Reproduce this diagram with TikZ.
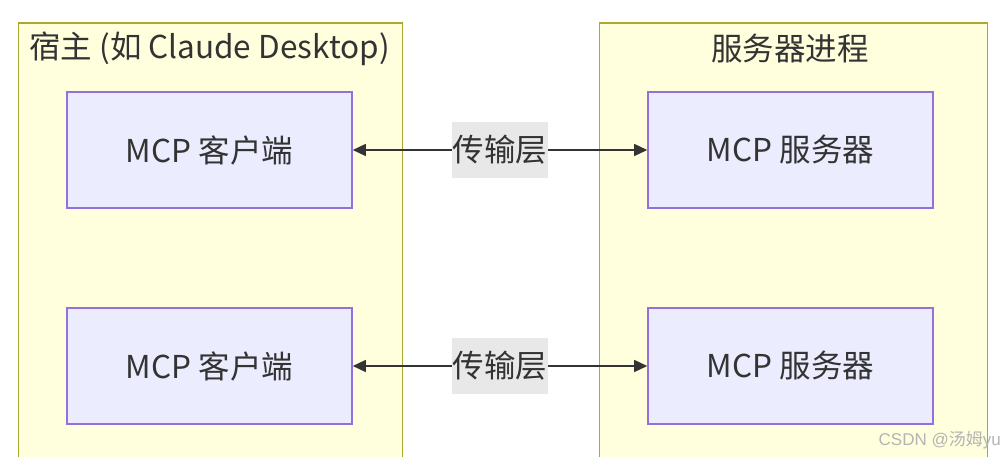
\documentclass[tikz,border=0pt]{standalone}
\usepackage{fontspec}
\setmainfont{Noto Sans CJK SC}
\newfontfamily\wmfont{Liberation Sans}
\newfontfamily\wmcjk{Noto Sans CJK SC}
\usetikzlibrary{arrows.meta}
\definecolor{clfill}{HTML}{FFFFDE}
\definecolor{cldraw}{HTML}{AAAA33}
\definecolor{ndfill}{HTML}{ECECFF}
\definecolor{nddraw}{HTML}{9370DB}
\definecolor{txt}{HTML}{333333}
\definecolor{lblbg}{HTML}{E8E8E8}
\definecolor{wm}{HTML}{B4B4B4}
\tikzset{
  cluster/.style={draw=cldraw, fill=clfill, line width=1.8pt, anchor=north west, inner sep=0pt},
  cltitle/.style={text=txt, font=\fontsize{31.5}{36}\selectfont, inner sep=0pt},
  mcpbox/.style={draw=nddraw, fill=ndfill, line width=1.6pt, minimum width=285pt, minimum height=116pt, text=txt, font=\fontsize{31.5}{36}\selectfont, inner sep=0pt},
  lbl/.style={fill=lblbg, text=txt, minimum width=96pt, minimum height=56pt, inner sep=0pt, font=\fontsize{31.5}{36}\selectfont},
  link/.style={draw=txt, line width=1.5pt, {Triangle[length=13pt,width=12pt]}-{Triangle[length=13pt,width=12pt]}},
}
\begin{document}
\begin{tikzpicture}[x=1pt,y=-1pt]
\useasboundingbox (0,0) rectangle (1003,457);
\clip (0,0) rectangle (1003,457);
\node[cluster, minimum width=384pt, minimum height=480pt] (host) at (17.5,22.5) {};
\node[cluster, minimum width=388pt, minimum height=480pt] (srv) at (598.5,22.5) {};
\node[cltitle] (hostt) at (209.5,49) {宿主 (如 Claude Desktop)};
\node[cltitle] (srvt) at (790,49) {服务器进程};
\node[mcpbox] (c1) at (209.5,150) {MCP 客户端};
\node[mcpbox] (c2) at (209.5,366) {MCP 客户端};
\node[mcpbox] (s1) at (790.5,150) {MCP 服务器};
\node[mcpbox] (s2) at (790.5,366) {MCP 服务器};
\draw[link] (c1) -- (s1);
\draw[link] (c2) -- (s2);
\node[lbl] (t1) at (500,150) {传输层};
\node[lbl] (t2) at (500,366) {传输层};
\node[text=wm, font=\fontsize{17}{19}\selectfont, anchor=east, inner sep=0pt] (wmk) at (1001,440) {\wmfont CSDN @\wmcjk 汤姆\wmfont yu};
\end{tikzpicture}
\end{document}
